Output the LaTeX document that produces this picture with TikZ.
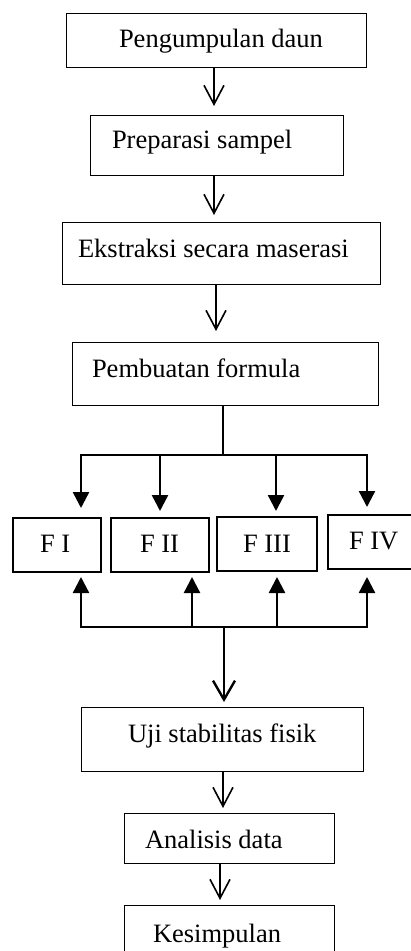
\documentclass[tikz,border=0pt]{standalone}
\usepackage{fontspec}
\setmainfont{Liberation Serif}
\usetikzlibrary{arrows.meta}
\tikzset{
  boxnode/.style={draw, line width=0.9pt, inner sep=0pt, outer sep=0pt},
  fbox/.style={draw, line width=1.1pt, inner sep=0pt, outer sep=0pt},
  lbl/.style={anchor=base west, inner sep=0pt, outer sep=0pt, font=\fontsize{26.5}{30}\selectfont},
  openarr/.style={line width=1.6pt, -{Straight Barb[length=19pt,width=20pt]}},
  fillarr/.style={line width=2.4pt, -{Triangle[length=16pt,width=16pt]}},
  bus/.style={line width=2.4pt},
}
\begin{document}
\begin{tikzpicture}[x=1pt,y=-1pt]
\useasboundingbox (0,0) rectangle (411,951);
\clip (0,0) rectangle (411,951);
% boxes
\node[boxnode, minimum width=300pt, minimum height=54pt] (b1) at (216,40) {};
\node[lbl] (t1) at (119,47) {Pengumpulan daun};
\node[boxnode, minimum width=253pt, minimum height=60pt] (b2) at (216.5,145) {};
\node[lbl] (t2) at (112,148) {Preparasi sampel};
\node[boxnode, minimum width=318pt, minimum height=62pt] (b3) at (221,253) {};
\node[lbl] (t3) at (78,257) {Ekstraksi secara maserasi};
\node[boxnode, minimum width=306pt, minimum height=63pt] (b4) at (225,373.5) {};
\node[lbl] (t4) at (92,377) {Pembuatan formula};
% F boxes
\node[fbox, minimum width=88pt, minimum height=54pt] (f1) at (57,545) {};
\node[lbl] (tf1) at (40,552) {F I};
\node[fbox, minimum width=98pt, minimum height=54pt] (f2) at (160,545) {};
\node[lbl] (tf2) at (140,552) {F II};
\node[fbox, minimum width=100pt, minimum height=54pt] (f3) at (267,544) {};
\node[lbl] (tf3) at (243,552) {F III};
\node[fbox, line width=1.8pt, minimum width=102pt, minimum height=54pt] (f4) at (379,542) {};
\node[lbl] (tf4) at (349,549) {F IV};
% lower boxes
\node[boxnode, minimum width=282pt, minimum height=64pt] (u) at (222,739) {};
\node[lbl] (tu) at (128,742) {Uji stabilitas fisik};
\node[boxnode, minimum width=210pt, minimum height=50pt] (a) at (229,838) {};
\node[lbl] (ta) at (145,848) {Analisis data};
\node[boxnode, minimum width=210pt, minimum height=70pt] (k) at (229,940) {};
\node[lbl] (tk) at (153,942) {Kesimpulan};
% x guides
\coordinate (xa) at (214,0);
\coordinate (xb) at (216,0);
\coordinate (xc) at (223,0);
\coordinate (xd) at (220,0);
% top arrows
\draw[openarr, shorten >=9pt] (b1.south -| xa) -- (b2.north -| xa);
\draw[openarr, shorten >=7pt] (b2.south -| xa) -- (b3.north -| xa);
\draw[openarr, shorten >=11pt] (b3.south -| xb) -- (b4.north -| xb);
% upper bus
\coordinate (dc) at (223,455);
\coordinate (d1) at (81,455);
\coordinate (d2) at (160,455);
\coordinate (d3) at (276,455);
\coordinate (d4) at (367,455);
\draw[bus] (b4.south -| dc) -- (dc);
\draw[bus, line cap=rect] (d1) -- (d4);
\draw[fillarr, shorten >=10pt] (d1) -- (f1.north -| d1);
\draw[fillarr, shorten >=7pt] (d2) -- (f2.north -| d2);
\draw[fillarr, shorten >=6pt] (d3) -- (f3.north -| d3);
\draw[fillarr, shorten >=8pt] (d4) -- (f4.north -| d4);
% lower bus
\coordinate (u1) at (81,627);
\coordinate (u2) at (192,627);
\coordinate (uc) at (224,627);
\coordinate (u3) at (277,627);
\coordinate (u4) at (367,627);
\draw[bus, line cap=rect] (u1) -- (u4);
\draw[fillarr, shorten >=5pt] (u1) -- (f1.south -| u1);
\draw[fillarr, shorten >=5pt] (u2) -- (f2.south -| u2);
\draw[fillarr, shorten >=6pt] (u3) -- (f3.south -| u3);
\draw[fillarr, shorten >=8pt] (u4) -- (f4.south -| u4);
\draw[bus, -{Straight Barb[length=19pt,width=22pt]}, shorten >=5pt] (uc) -- (u.north -| uc);
% bottom arrows
\draw[openarr, shorten >=5pt] (u.south -| xc) -- (a.north -| xc);
\draw[openarr, shorten >=5pt] (a.south -| xd) -- (k.north -| xd);
\end{tikzpicture}
\end{document}
